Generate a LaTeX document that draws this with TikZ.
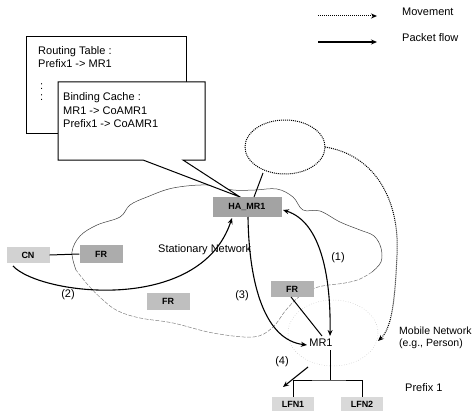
\documentclass[tikz,border=0pt]{standalone}
\usepackage{fontspec}
\setmainfont{Liberation Sans}
\usetikzlibrary{arrows.meta,shapes.geometric}
\begin{document}
\begin{tikzpicture}[x=1pt,y=-1pt,
  font=\fontsize{11}{13}\selectfont,
  nbox/.style={inner sep=0pt,minimum height=15pt,font=\fontsize{9}{10}\selectfont\bfseries},
  lbl/.style={inner sep=0pt,anchor=west},
  flow/.style={line width=1.1pt,-{Stealth[length=6pt,width=5pt]}},
  flowboth/.style={line width=1.1pt,{Stealth[length=6pt,width=5pt]}-{Stealth[length=6pt,width=5pt]}},
  move/.style={line width=1pt,densely dotted,-{Stealth[length=6pt,width=5pt]}},
  link/.style={line width=1pt},
  cloudtop/.style={line width=0.5pt,draw=black!75},
  cloudlow/.style={line width=0.5pt,draw=black!50,dash pattern=on 4pt off 1.5pt},
  callout/.style={draw,line width=1pt,fill=white}
]
\useasboundingbox (0,0) rectangle (474,412);

% legend
\coordinate (m1) at (318,16); \coordinate (m2) at (377,16);
\coordinate (p1) at (318,42); \coordinate (p2) at (377,42);
\draw[move] (m1) -- (m2);
\draw[flow] (p1) -- (p2);
\node[lbl] (lmove) at (402,12) {Movement};
\node[lbl] (lpack) at (402,38) {Packet flow};

% stationary network cloud
\draw[cloudtop] plot[smooth,tension=0.6] coordinates {
 (76,270) (72,252) (80,236) (97,225) (120,217) (130,205) (147,197) (173,188)
 (207,185) (233,190) (255,190) (277,189) (293,197) (303,210) (320,211) (340,222)
 (360,230) (374,236) (381,248) (381,262) (372,272)};
\draw[cloudlow] plot[smooth,tension=0.6] coordinates {
 (372,272) (360,279) (345,283) (318,287) (300,296) (286,310) (272,328) (253,337)
 (213,333) (173,323) (140,318) (118,311) (103,300) (88,285) (76,270)};

% mobile network faint ellipse
\draw[gray!55,line width=0.5pt,dotted] (333,333) ellipse [x radius=45,y radius=33];

% top ellipse
\node[draw,ellipse,densely dotted,line width=1pt,minimum width=80pt,minimum height=54pt,inner sep=0pt] (ell) at (285,147) {};

% routing table box
\draw[callout] (26,37) rectangle (186,133);
\node[lbl] (rt1) at (38,52) {Routing Table :};
\node[lbl] (rt2) at (38,64) {Prefix1 -> MR1};
\node[lbl] (rt3) at (40,87) {:};
\node[lbl] (rt4) at (40,98) {:};

% binding cache callout
\draw[callout,line join=miter] (58,82) -- (205,82) -- (205,160) -- (183,160) -- (240,197) -- (143,160) -- (58,160) -- cycle;
\node[lbl] (bc1) at (63,98) {Binding Cache :};
\node[lbl] (bc2) at (63,111) {MR1 -> CoAMR1};
\node[lbl] (bc3) at (63,124) {Prefix1 -> CoAMR1};

% nodes
\node[nbox,fill=gray!35,minimum width=43pt,minimum height=16pt] (cn) at (28,255) {CN};
\node[nbox,fill=gray!65,minimum width=43pt,minimum height=18pt] (fra) at (101,254) {FR};
\node[nbox,fill=gray!50,minimum width=43pt,minimum height=17pt] (frb) at (168,301) {FR};
\node[nbox,fill=gray!60,minimum width=43pt,minimum height=16pt] (frc) at (292,289) {FR};
\node[nbox,fill=gray!72,minimum width=69pt,minimum height=20pt] (ha) at (247,207) {HA\_MR1};
\node[inner sep=1pt] (mr) at (321,343) {MR1};
\node[nbox,fill=gray!30,minimum width=42pt,minimum height=14pt] (lfn1) at (293,404) {LFN1};
\node[nbox,fill=gray!30,minimum width=42pt,minimum height=14pt] (lfn2) at (362,404) {LFN2};

% labels
\node[lbl] (stat) at (158,250) {Stationary Network};
\node (l1) at (338,258) {(1)};
\node (l2) at (68,295) {(2)};
\node (l3) at (242,296) {(3)};
\node (l4) at (282,362) {(4)};
\node[lbl,font=\fontsize{10.5}{12.5}\selectfont] (mob1) at (399,331) {Mobile Network};
\node[lbl,font=\fontsize{10.5}{12.5}\selectfont] (mob2) at (399,344) {(e.g., Person)};
\node[lbl] (pref) at (405,388) {Prefix 1};

% connectors
\draw[link] (cn.east) -- (fra.west);
\coordinate (ellb) at (263,173);
\coordinate (hat) at (254,197);
\draw[link] (ellb) -- (hat);

\coordinate (c2s) at (13,266);
\coordinate (c2e) at (232,218);
\draw[flow] (c2s) .. controls (40,295) and (200,315) .. (c2e);

\coordinate (c3s) at (248,217);
\coordinate (c3e) at (307,345);
\draw[flow] (c3s) .. controls (249,285) and (265,340) .. (c3e);

\coordinate (c1s) at (330,336);
\coordinate (c1e) at (283,210);
\draw[flowboth] (c1s) .. controls (331,280) and (322,222) .. (c1e);

\coordinate (frcm) at (291,297);
\coordinate (mrt) at (322,336);
\draw[link] (frcm) -- (mrt);

\coordinate (c4s) at (308,367);
\coordinate (c4e) at (283,387);
\draw[flow] (c4s) -- (c4e);

\coordinate (mrb) at (330,350);
\coordinate (bus) at (330,380);
\draw[link] (mrb) -- (bus);
\draw[link] (lfn1.north) |- (bus) -| (lfn2.north);

\coordinate (mvs) at (325,147);
\coordinate (mvm) at (397,255);
\coordinate (mve) at (378,341);
\draw[move] (mvs) .. controls (375,155) and (400,200) .. (mvm) .. controls (395,300) and (392,328) .. (mve);
\end{tikzpicture}
\end{document}
